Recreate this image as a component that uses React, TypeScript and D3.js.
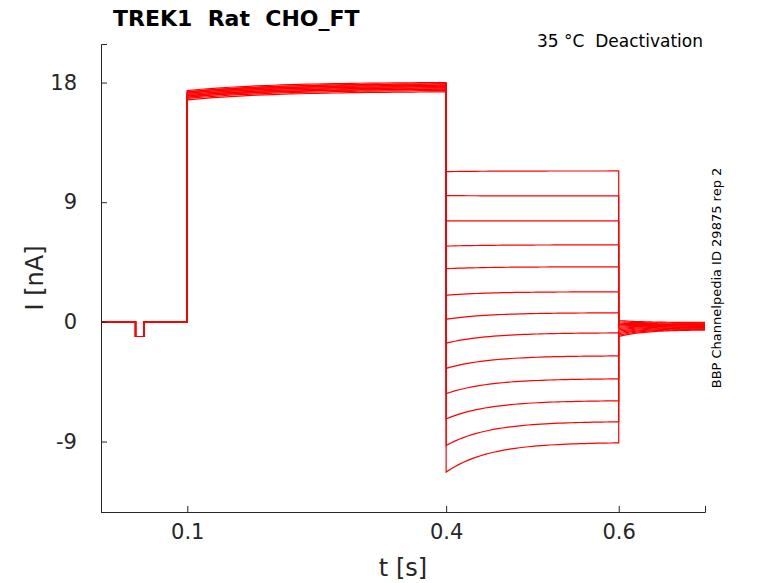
import React, { useEffect, useRef } from "react"
import * as d3 from "d3"

// ---------- Data ----------
const xTicks = [0.1, 0.4, 0.6]
const yTicks = [-9, 0, 9, 18]
// per-sweep current at start / end of the 0.1-0.4 s step
const stepStart = [16.7, 16.8, 16.9, 16.9, 17.0, 17.0, 17.1, 17.1, 17.2, 17.2, 17.3, 17.3, 17.4]
const stepEnd = [17.3, 17.4, 17.5, 17.5, 17.6, 17.6, 17.7, 17.7, 17.8, 17.8, 17.9, 17.9, 18.0]
// per-sweep current at start / end of the 0.4-0.6 s tail step
const tailStart = [11.3, 9.5, 7.6, 5.7, 4.0, 2.0, 0.2, -1.6, -3.5, -5.4, -7.3, -9.3, -11.3]
const tailEnd = [11.35, 9.47, 7.59, 5.79, 4.14, 2.26, 0.68, -0.83, -2.56, -4.29, -5.94, -7.52, -9.1]
// current right after returning to holding at 0.6 s
const afterStart = [0.1, 0.0, -0.1, -0.2, -0.3, -0.4, -0.5, -0.6, -0.7, -0.8, -0.9, -1.0, -1.1]
const afterEnd = [-0.05, -0.1, -0.15, -0.2, -0.25, -0.3, -0.3, -0.35, -0.4, -0.45, -0.5, -0.55, -0.6]
const prePulse = -1.1

const W = 778, H = 583
const margin = { left: 101, right: 73, top: 44, bottom: 71 }

export default function App() {
  const ref = useRef<SVGSVGElement>(null)
  useEffect(() => {
    const svg = d3.select(ref.current!)
    svg.selectAll("*").remove()
    const x = d3.scaleLinear().domain([0, 0.7]).range([margin.left, W - margin.right])
    const y = d3.scaleLinear().domain([-14.3, 20.9]).range([H - margin.bottom, margin.top])
    const line = d3.line<[number, number]>().x(d => x(d[0])).y(d => y(d[1]))

    stepStart.forEach((s0, i) => {
      const pts: [number, number][] = [[0, 0], [0.04, 0], [0.04, prePulse], [0.05, prePulse], [0.05, 0], [0.1, 0]]
      for (let k = 0; k <= 30; k++) {
        const t = 0.1 + (0.3 * k) / 30
        const f = 1 - Math.exp(-(t - 0.1) / 0.1)
        pts.push([t, s0 + (stepEnd[i] - s0) * f / (1 - Math.exp(-3))])
      }
      for (let k = 0; k <= 40; k++) {
        const t = 0.4 + (0.2 * k) / 40
        const f = Math.exp(-(t - 0.4) / 0.05)
        const e = Math.exp(-4)
        pts.push([t, tailEnd[i] + (tailStart[i] - tailEnd[i]) * (f - e) / (1 - e)])
      }
      for (let k = 0; k <= 30; k++) {
        const t = 0.6 + (0.1 * k) / 30
        pts.push([t, afterEnd[i] + (afterStart[i] - afterEnd[i]) * Math.exp(-(t - 0.6) / 0.03)])
      }
      svg.append("path").attr("d", line(pts)).attr("fill", "none").attr("stroke", "red").attr("stroke-width", 1.2)
    })

    const font = "DejaVu Sans, sans-serif"
    const gx = svg.append("g").attr("transform", `translate(0,${H - margin.bottom})`)
      .call(d3.axisBottom(x).tickValues(xTicks).tickSize(-6).tickPadding(12).tickFormat(d3.format(".1f")))
    const gy = svg.append("g").attr("transform", `translate(${margin.left},0)`)
      .call(d3.axisLeft(y).tickValues(yTicks).tickSize(-6).tickPadding(24).tickFormat(d => String(d)))
    ;[gx, gy].forEach(g => {
      g.select(".domain").attr("stroke", "#262626")
      g.selectAll("line").attr("stroke", "#262626")
      g.selectAll("text").attr("font-size", 21).attr("font-family", font).attr("fill", "#262626")
    })

    svg.append("text").attr("x", 403).attr("y", 576).attr("text-anchor", "middle")
      .attr("font-size", 24).attr("font-family", font).attr("fill", "#262626").text("t [s]")
    svg.append("text").attr("transform", `translate(43,${278}) rotate(-90)`).attr("text-anchor", "middle")
      .attr("font-size", 24).attr("font-family", font).attr("fill", "#262626").text("I [nA]")
    svg.append("text").attr("x", 113).attr("y", 26).attr("font-size", 22).attr("font-weight", "bold")
      .attr("font-family", font).style("white-space", "pre").text("TREK1  Rat  CHO_FT")
    svg.append("text").attr("x", 703).attr("y", 47).attr("text-anchor", "end").attr("font-size", 17)
      .attr("font-family", font).style("white-space", "pre").text("35 °C  Deactivation")
    svg.append("text").attr("transform", `translate(721,${278}) rotate(-90)`).attr("text-anchor", "middle")
      .attr("font-size", 13).attr("font-family", font).text("BBP Channelpedia ID 29875 rep 2")
  }, [])
  return <svg ref={ref} width={W} height={H} style={{ position: "absolute", left: 0, top: 0 }} />
}
